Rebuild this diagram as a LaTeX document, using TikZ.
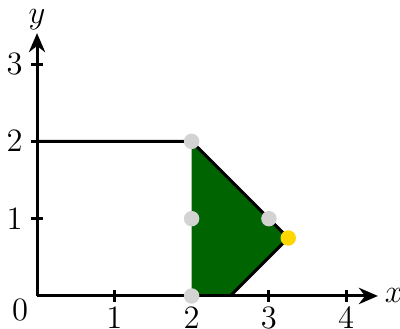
\documentclass[tikz,border=0pt]{standalone}
\usepackage{tikz}
\usetikzlibrary{arrows.meta}
\definecolor{region}{HTML}{006400}
\definecolor{vertex}{HTML}{D3D3D3}
\definecolor{optimum}{HTML}{FFD700}
\tikzset{
  every picture/.style={line join=round,>=Stealth},
  axisline/.style={line width=1.1pt},
  dot/.style={circle,inner sep=0pt,minimum size=0.2cm},
}
\begin{document}
\begin{tikzpicture}
\useasboundingbox(-0.479,-0.427)rectangle(4.696,3.829);
\coordinate(A)at(2,0);
\coordinate(B)at(2,2);
\coordinate(C)at(3.25,0.75);
\coordinate(D)at(2.5,0);
\draw[region,line width=0.6pt](0,0)--(0,2);
\fill[region](A)--(B)--(C)--(D)--cycle;
\draw[line width=1.1pt](0,2)--(B)--(C)--(D);
\draw[axisline,-{Stealth[length=7pt,width=6pt]}](0,0)--(4.41,0)node[right,inner sep=2pt]{\large$x$};
\draw[axisline,-{Stealth[length=7pt,width=6pt]}](0,0)--(0,3.4)node[above,inner sep=0.8pt]{\large$y$};
\foreach \i in {1,...,4}\draw[axisline](\i,0.08)--(\i,-0.08)node[below,inner sep=1.5pt]{\large$\i$};
\foreach \i in {1,...,3}\draw[axisline](0.08,\i)--(-0.08,\i)node[left,inner sep=2.5pt]{\large$\i$};
\node at(-0.22,-0.18){\large$0$};
\foreach \p in {(2,0),(2,1),(2,2),(3,1)}\node[dot,fill=vertex]at\p{};
\node[dot,fill=optimum]at(C){};
\end{tikzpicture}
\end{document}
